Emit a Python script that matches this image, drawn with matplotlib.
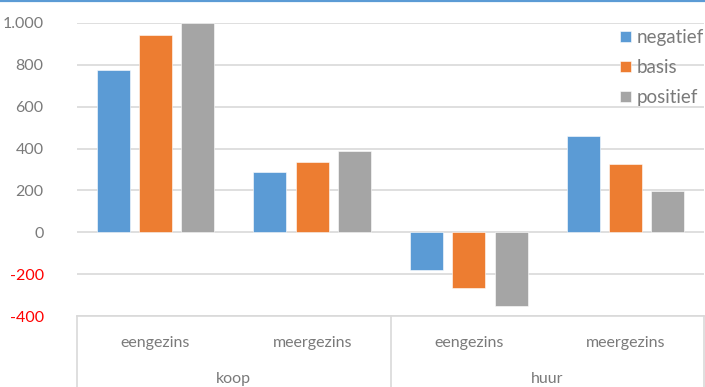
import numpy as np
import matplotlib
matplotlib.use("Agg")
import matplotlib.pyplot as plt
from matplotlib.lines import Line2D

plt.rcParams['font.family'] = ['Lato', 'DejaVu Sans']

# data
subcats = ["eengezins", "meergezins", "eengezins", "meergezins"]
groups = ["koop", "huur"]
series = ["negatief", "basis", "positief"]
negatief = [775, 288, -182, 462]
basis = [945, 338, -265, 327]
positief = [1000, 390, -351, 197]
yticks = [-400, -200, 0, 200, 400, 600, 800, 1000]
ytick_labels = ["-400", "-200", "0", "200", "400", "600", "800", "1.000"]

colors = ["#5b9bd5", "#ed7d31", "#a5a5a5"]
txt = "#7a7a7a"
grid = "#d9d9d9"

fig = plt.figure(figsize=(7.05, 3.87), dpi=100)
ax = fig.add_axes([77/705, 71/387, 627/705, 293/387])

x = np.arange(len(subcats)) + 0.5
w = 0.21
step = 0.27
for i, vals in enumerate([negatief, basis, positief]):
    ax.bar(x + (i - 1) * step, vals, w, color=colors[i], label=series[i],
           edgecolor="white", linewidth=0.4, zorder=3)

ax.set_xlim(0, 4)
ax.set_ylim(-400, 1000)
ax.set_yticks(yticks)
ax.set_yticklabels(ytick_labels)
for lab, v in zip(ax.get_yticklabels(), yticks):
    lab.set_color("red" if v < 0 else txt)
ax.tick_params(axis="y", length=0, pad=24, labelsize=11.5)
ax.tick_params(axis="x", length=0, labelbottom=False)
ax.grid(axis="y", color=grid, linewidth=1.2, zorder=0)
for s in ["top", "right", "left"]:
    ax.spines[s].set_visible(False)
ax.spines["bottom"].set_color(grid)
ax.spines["bottom"].set_linewidth(1.2)

# multi-level category axis
tr = ax.get_xaxis_transform()
for xi, name in zip(x, subcats):
    ax.text(xi, -27/293, name, transform=tr, ha="center", va="center",
            color=txt, fontsize=11.5)
for gi, name in enumerate(groups):
    ax.text(gi * 2 + 1, -63/293, name, transform=tr, ha="center", va="center",
            color=txt, fontsize=11.5)
for xv in [0, 2, 4]:
    ax.add_line(Line2D([xv, xv], [0, -80/293], transform=tr, color=grid,
                       linewidth=1.2, clip_on=False))

leg = ax.legend(loc="upper left", bbox_to_anchor=(620/705, 1 - 29/387),
                bbox_transform=fig.transFigure, frameon=False, fontsize=13.5,
                handlelength=0.57, handleheight=0.57, handletextpad=0.32,
                labelspacing=0.7, borderaxespad=0, borderpad=0)
for t in leg.get_texts():
    t.set_color(txt)

fig.add_artist(Line2D([0, 1], [1 - 1/387, 1 - 1/387], transform=fig.transFigure,
                      color="#5b9bd5", linewidth=1.6))

fig.savefig("out.png", dpi=100)
